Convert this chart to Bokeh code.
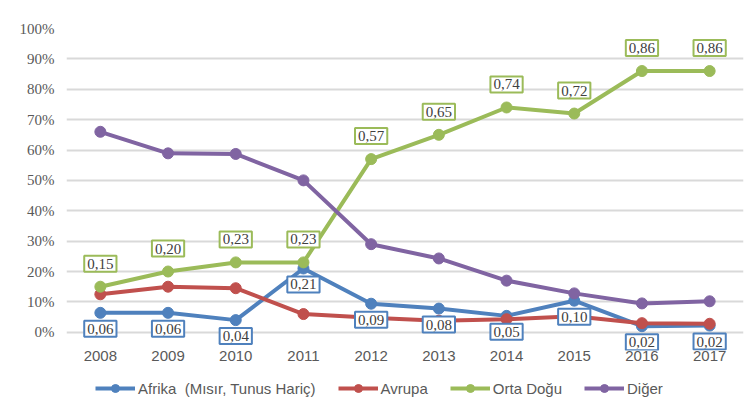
from bokeh.plotting import figure
from bokeh.layouts import column
from bokeh.models import (ColumnDataSource, Legend, LegendItem,
                          NumeralTickFormatter, FixedTicker)
from bokeh.core.properties import value
from bokeh.embed import file_html
from bokeh.resources import INLINE

years = ["2008", "2009", "2010", "2011", "2012", "2013", "2014", "2015", "2016", "2017"]
afrika = [0.064, 0.064, 0.04, 0.21, 0.094, 0.078, 0.054, 0.104, 0.02, 0.022]
avrupa = [0.125, 0.15, 0.145, 0.06, 0.048, 0.038, 0.043, 0.053, 0.03, 0.028]
orta_dogu = [0.15, 0.20, 0.23, 0.23, 0.57, 0.65, 0.74, 0.72, 0.86, 0.86]
diger = [0.66, 0.589, 0.587, 0.50, 0.29, 0.243, 0.17, 0.128, 0.095, 0.102]
names = ["Afrika  (Mısır, Tunus Hariç)", "Avrupa", "Orta Doğu", "Diğer"]
y_ticks = [0, 0.1, 0.2, 0.3, 0.4, 0.5, 0.6, 0.7, 0.8, 0.9, 1.0]

colors = ["#4F81BD", "#C0504D", "#9BBB59", "#8064A2"]


def fmt(v):
    return f"{v:.2f}".replace(".", ",")


p = figure(x_range=years, y_range=(-0.06, 1.0), frame_width=677, frame_height=322,
           output_backend="svg", toolbar_location=None,
           min_border_left=66, min_border_right=3, min_border_top=28,
           min_border_bottom=22)

p.outline_line_color = None
p.xgrid.grid_line_color = None
p.ygrid.grid_line_color = "#D9D9D9"
p.ygrid.grid_line_width = 2
p.yaxis.ticker = FixedTicker(ticks=y_ticks)
p.yaxis.formatter = NumeralTickFormatter(format="0%")
for ax in (p.xaxis[0], p.yaxis[0]):
    ax.axis_line_color = None
    ax.major_tick_line_color = None
    ax.minor_tick_line_color = None
    ax.major_tick_out = 0
    ax.major_tick_in = 0
    ax.major_label_text_color = "#595959"
p.yaxis.major_label_text_font = "Liberation Serif"
p.yaxis.major_label_text_font_size = "15px"
p.yaxis.major_label_standoff = 12
p.xaxis.major_label_text_font = "Liberation Sans"
p.xaxis.major_label_text_font_size = "15px"
p.xaxis.major_label_standoff = 0

# legend strip: same series drawn again, but outside its visible y range
pl = figure(x_range=p.x_range, y_range=(10, 11), width=746, height=30,
            output_backend="svg", toolbar_location=None,
            min_border_left=0, min_border_right=0, min_border_top=0,
            min_border_bottom=0)
pl.axis.visible = False
pl.grid.visible = False
pl.outline_line_color = None

items = []
label_specs = []
for name, vals, col in zip(names, [afrika, avrupa, orta_dogu, diger], colors):
    src = ColumnDataSource(dict(x=years, y=vals, t=[fmt(v) for v in vals]))
    p.line("x", "y", source=src, line_color=col, line_width=4)
    p.scatter("x", "y", source=src, size=11, fill_color=col, line_color=col)
    ln = pl.line("x", "y", source=src, line_color=col, line_width=4)
    sc = pl.scatter("x", "y", source=src, size=11, fill_color=col, line_color=col)
    items.append(LegendItem(label=name, renderers=[ln, sc]))
    if name in (names[0], names[2]):
        label_specs.append((src, col, name == names[2]))

for src, col, above in label_specs:
    p.text(x="x", y="y", text="t", source=src,
           text_align="center", text_baseline="middle",
           y_offset=-23 if above else 16,
           text_font=value("Liberation Serif"), text_font_size="15px",
           text_color="#404040",
           background_fill_color="white",
           border_line_color=col, border_line_width=2,
           padding=3)

legend = Legend(items=items, orientation="horizontal", location=(29, 4),
                border_line_color=None, background_fill_alpha=0,
                label_text_font="Liberation Sans", label_text_font_size="15px",
                label_text_color="#595959", glyph_width=40, spacing=22,
                label_standoff=3, padding=2, margin=0)
pl.add_layout(legend)

open("out.html", "w").write(file_html(column(p, pl), INLINE))
